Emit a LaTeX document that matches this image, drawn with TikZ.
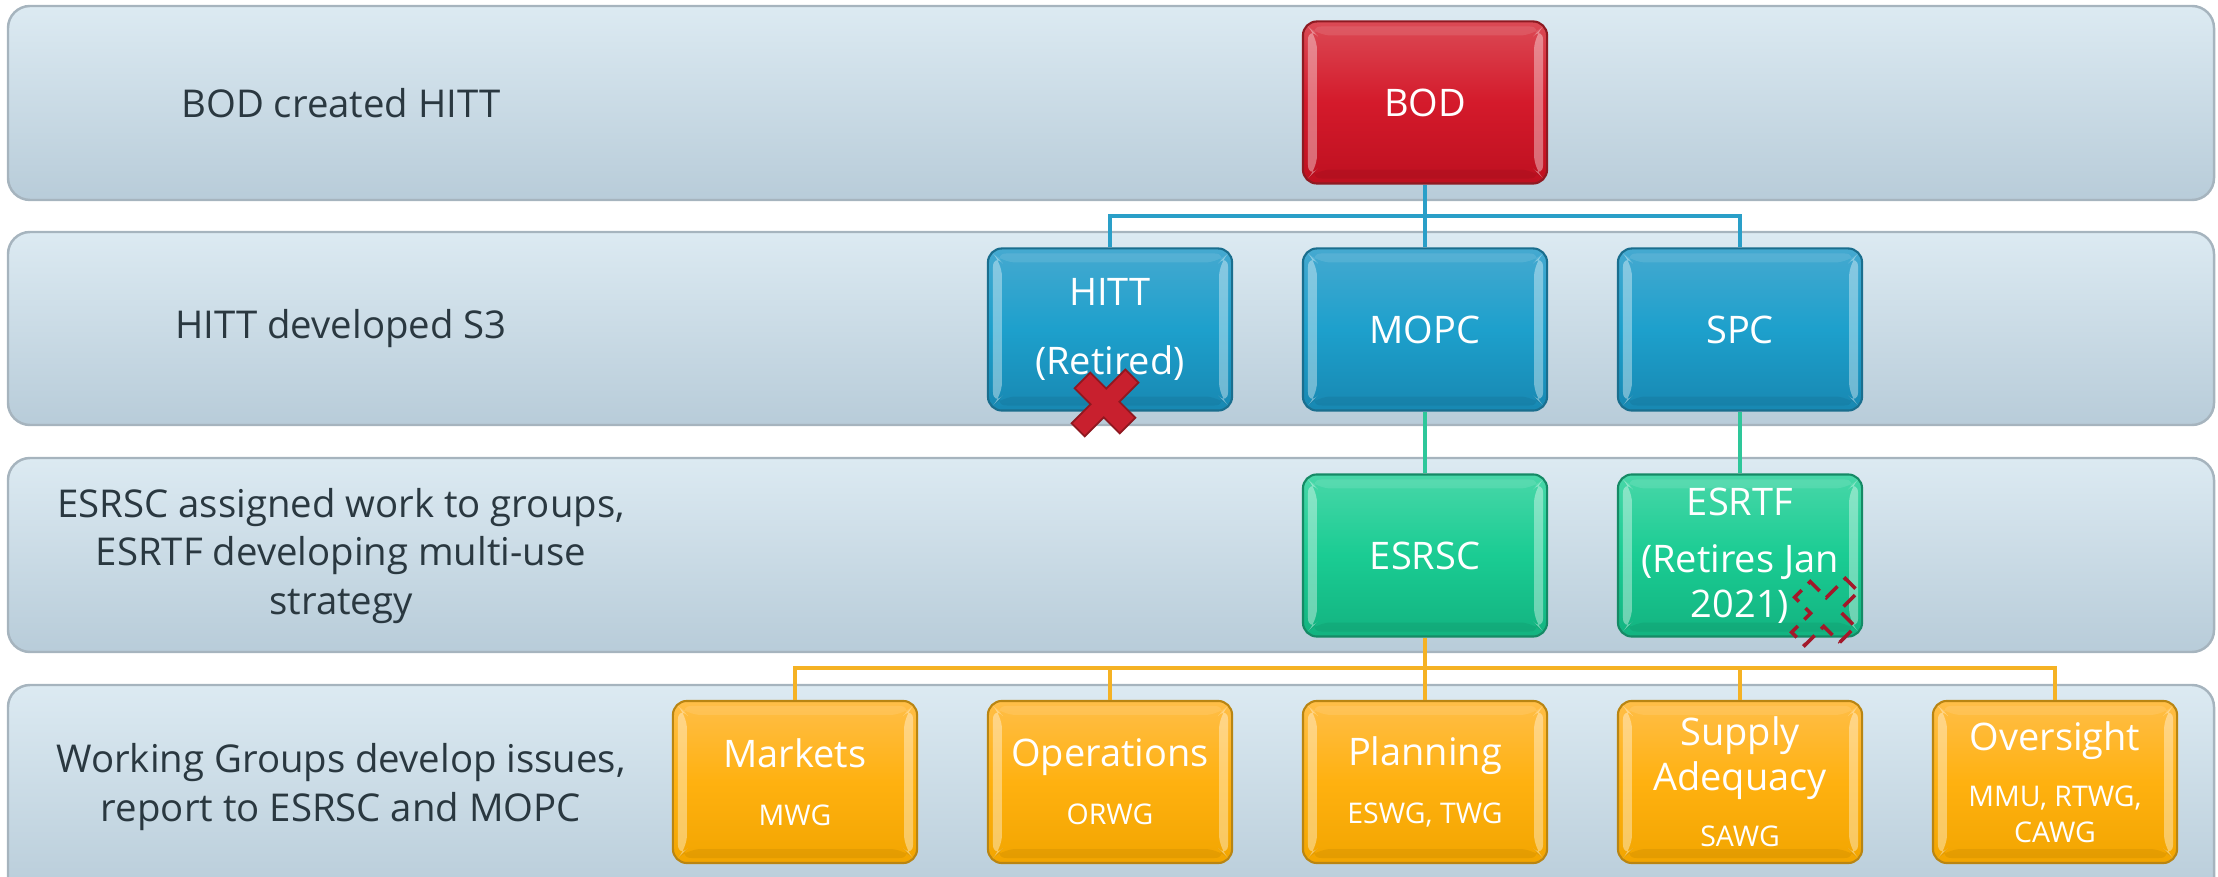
\documentclass[tikz,border=0pt]{standalone}
\usepackage{fontspec}
\setmainfont{Open Sans}
\usetikzlibrary{calc}

\definecolor{bandtop}{HTML}{DCEAF2}
\definecolor{bandbot}{HTML}{B8CCD9}
\definecolor{bandline}{HTML}{A6B4BE}
\definecolor{lefttxt}{HTML}{2A3840}
\definecolor{redT}{HTML}{DB4A55}
\definecolor{redM}{HTML}{D41A2B}
\definecolor{redB}{HTML}{BE1020}
\definecolor{redD}{HTML}{8E1A22}
\definecolor{bluT}{HTML}{45A9D0}
\definecolor{bluM}{HTML}{1DA0CC}
\definecolor{bluB}{HTML}{1888B2}
\definecolor{bluD}{HTML}{1A6E8E}
\definecolor{grnT}{HTML}{48D7A8}
\definecolor{grnM}{HTML}{1ACC93}
\definecolor{grnB}{HTML}{13B380}
\definecolor{grnD}{HTML}{158A65}
\definecolor{orgT}{HTML}{FFBE48}
\definecolor{orgM}{HTML}{FFB110}
\definecolor{orgB}{HTML}{F2A500}
\definecolor{orgD}{HTML}{B98512}
\definecolor{lineblue}{HTML}{2A9FC8}
\definecolor{linegreen}{HTML}{2EC79A}
\definecolor{lineorange}{HTML}{F5B224}
\definecolor{xred}{HTML}{C8202E}
\definecolor{xredD}{HTML}{8F1820}
\definecolor{xdash}{HTML}{A3182A}

\tikzset{
  band/.style={draw=bandline, line width=0.7pt, rounded corners=0.22cm,
    top color=bandtop, bottom color=bandbot},
  lefttext/.style={text=lefttxt, align=center,
    font=\fontsize{10.9}{13.7}\selectfont, inner sep=0pt},
  bevel/.style={path picture={
    \fill[white,opacity=0.38]
      ($(path picture bounding box.north west)+(0.05cm,-0.05cm)$) --
      ($(path picture bounding box.north west)+(0.14cm,-0.14cm)$) --
      ($(path picture bounding box.south west)+(0.14cm,0.14cm)$) --
      ($(path picture bounding box.south west)+(0.05cm,0.05cm)$) -- cycle;
    \fill[white,opacity=0.38]
      ($(path picture bounding box.north east)+(-0.04cm,-0.05cm)$) --
      ($(path picture bounding box.north east)+(-0.13cm,-0.14cm)$) --
      ($(path picture bounding box.south east)+(-0.13cm,0.14cm)$) --
      ($(path picture bounding box.south east)+(-0.04cm,0.05cm)$) -- cycle;
    \fill[white,opacity=0.10]
      ($(path picture bounding box.north west)+(0.05cm,-0.05cm)$) --
      ($(path picture bounding box.north east)+(-0.04cm,-0.05cm)$) --
      ($(path picture bounding box.north east)+(-0.13cm,-0.14cm)$) --
      ($(path picture bounding box.north west)+(0.14cm,-0.14cm)$) -- cycle;
    \fill[black,opacity=0.06]
      ($(path picture bounding box.south west)+(0.05cm,0.05cm)$) --
      ($(path picture bounding box.south east)+(-0.04cm,0.05cm)$) --
      ($(path picture bounding box.south east)+(-0.13cm,0.14cm)$) --
      ($(path picture bounding box.south west)+(0.14cm,0.14cm)$) -- cycle;
  }},
  gbox/.style={minimum width=2.44cm, minimum height=1.62cm, inner sep=0pt,
    rounded corners=0.14cm, text=white, align=center, line width=0.6pt,
    font=\fontsize{10.8}{12.8}\selectfont, bevel},
  redbox/.style={gbox, draw=redD, top color=redT, bottom color=redB, middle color=redM},
  bluebox/.style={gbox, draw=bluD, top color=bluT, bottom color=bluB, middle color=bluM},
  greenbox/.style={gbox, draw=grnD, top color=grnT, bottom color=grnB, middle color=grnM},
  orangebox/.style={gbox, draw=orgD, top color=orgT, bottom color=orgB, middle color=orgM},
  conn/.style={line width=1.15pt},
  bluecon/.style={conn, draw=lineblue},
  greencon/.style={conn, draw=linegreen},
  orangecon/.style={conn, draw=lineorange},
  xfull/.style={fill=xred, draw=xredD, line width=0.5pt, line join=miter},
  xdashed/.style={draw=xdash, line width=1pt, dash pattern=on 4.6pt off 2.6pt},
  pics/crossmark/.style={code={
    \path[#1, rotate=45, yscale=0.84]
      (-11,38) -- (11,38) -- (11,11) -- (38,11) -- (38,-11) -- (11,-11) --
      (11,-38) -- (-11,-38) -- (-11,-11) -- (-38,-11) -- (-38,11) -- (-11,11) -- cycle;
  }},
}
\newcommand{\smallfont}{\fontsize{8.1}{9.6}\selectfont}

\begin{document}
\begin{tikzpicture}[x=0.01cm, y=-0.01cm]
\useasboundingbox (0,0) rectangle (2218,877);
\clip (0,0) rectangle (2218,877);

% bands
\path[band] (8,6) rectangle (2214,200);
\path[band] (8,232) rectangle (2214,425);
\path[band] (8,458) rectangle (2214,652);
\path[band] (8,685) rectangle (2214,900);

% left texts
\node[lefttext] (t1) at (341,103) {BOD created HITT};
\node[lefttext] (t2) at (341,329) {HITT developed S3};
\node[lefttext] (t3) at (341,556) {ESRSC assigned work to groups,\\ESRTF developing multi-use\\strategy};
\node[lefttext] (t4) at (341,787) {Working Groups develop issues,\\report to ESRSC and MOPC};

% junction coordinates
\coordinate (j1) at (1425,216);
\coordinate (j3) at (1425,668);

% boxes
\node[redbox] (BOD) at (1425,102.5) {BOD};
\node[bluebox] (HITT) at (1110,329.5) {HITT\\[6.8pt](Retired)};
\node[bluebox] (MOPC) at (1425,329.5) {MOPC};
\node[bluebox] (SPC) at (1740,329.5) {SPC};
\node[greenbox] (ESRSC) at (1425,555.5) {ESRSC};
\node[greenbox] (ESRTF) at (1740,555.5) {\raisebox{-3pt}{ESRTF}\\[6.3pt](Retires Jan\\2021)};
\node[orangebox] (MKT) at (795,782) {Markets\\[3.7pt]{\smallfont MWG}};
\node[orangebox] (OPS) at (1110,782) {Operations\\[3.7pt]{\smallfont ORWG}};
\node[orangebox] (PLN) at (1425,782) {Planning\\[3.7pt]{\smallfont ESWG, TWG}};
\node[orangebox] (SUP) at (1740,782) {Supply\\Adequacy\\[3.1pt]{\smallfont SAWG}};
\node[orangebox] (OVS) at (2055,782) {Oversight\\[3.1pt]{\smallfont MMU, RTWG,}\\[-2.6pt]{\smallfont CAWG}};

% connectors
\draw[bluecon] (BOD.south) -- (j1);
\draw[bluecon] (HITT.north) |- (j1);
\draw[bluecon] (j1) -| (SPC.north);
\draw[bluecon] (j1) -- (MOPC.north);
\draw[greencon] (MOPC.south) -- (ESRSC.north);
\draw[greencon] (SPC.south) -- (ESRTF.north);
\draw[orangecon] (ESRSC.south) -- (j3);
\draw[orangecon] (MKT.north) |- (j3);
\draw[orangecon] (OPS.north) |- (j3);
\draw[orangecon] (PLN.north) -- (j3);
\draw[orangecon] (j3) -| (SUP.north);
\draw[orangecon] (j3) -| (OVS.north);

% retirement marks
\pic at (1105,403) {crossmark=xfull};
\pic at (1825,612) {crossmark=xdashed};
\end{tikzpicture}
\end{document}
